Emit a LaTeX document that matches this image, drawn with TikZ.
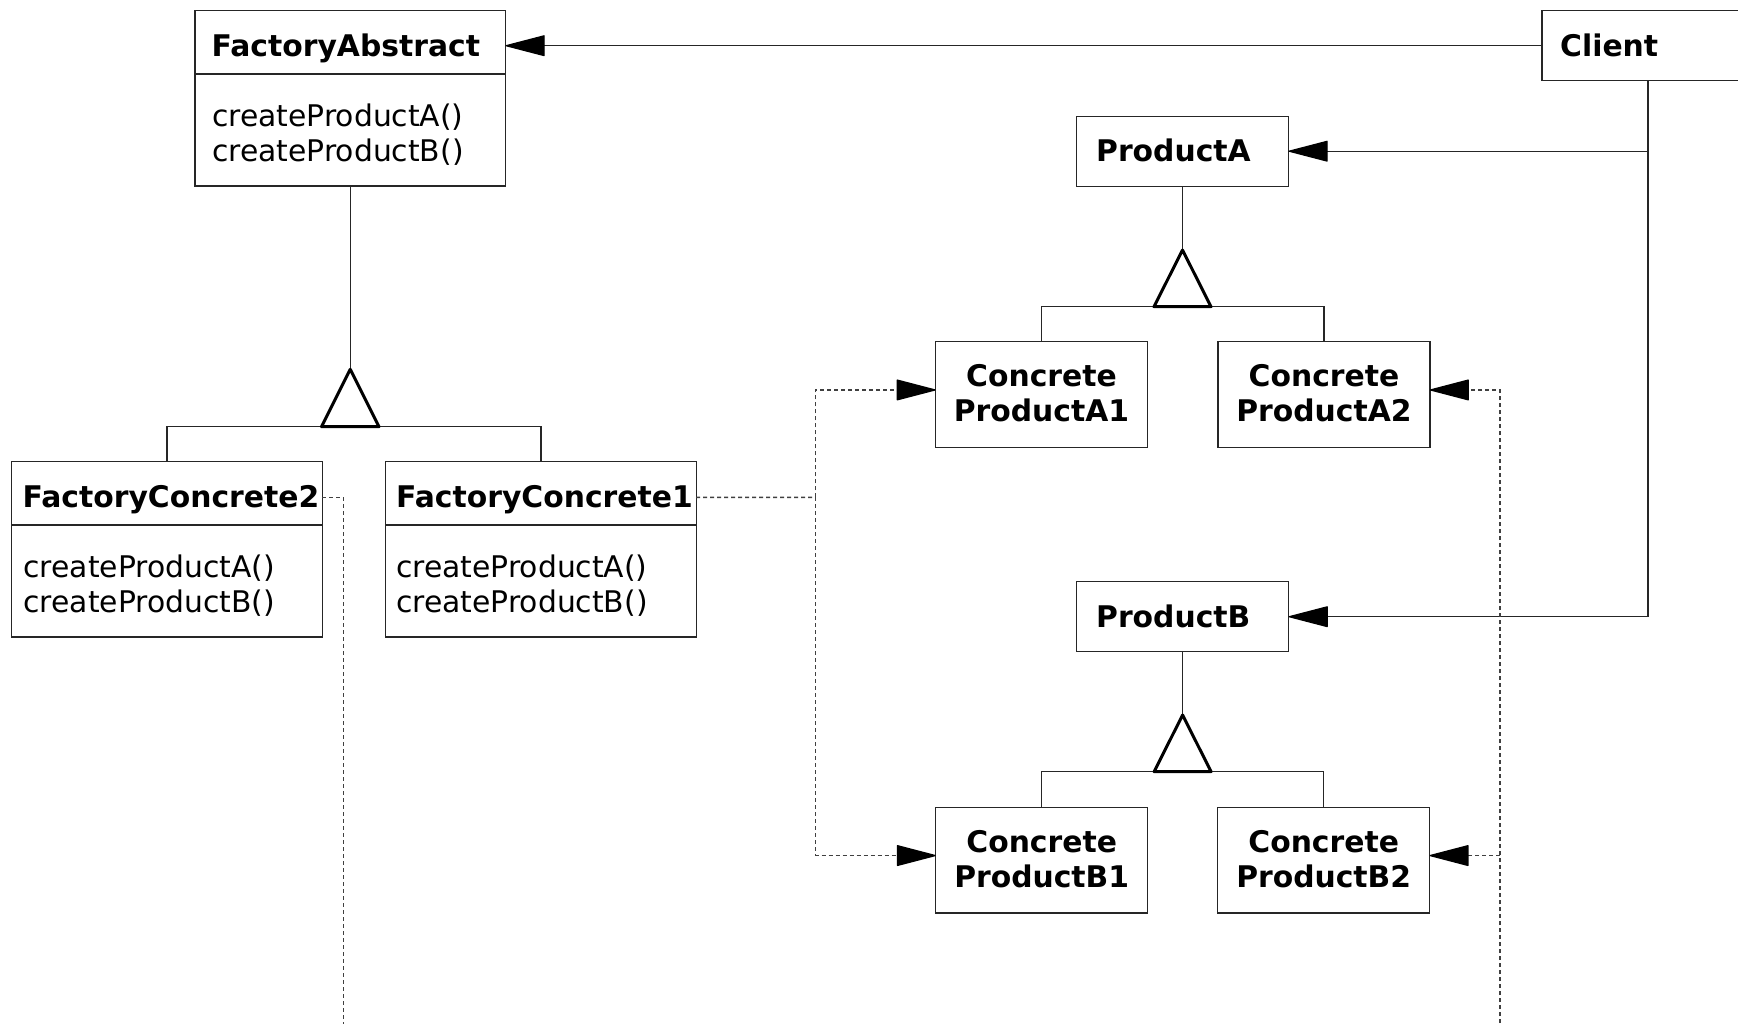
\documentclass[tikz,border=0pt]{standalone}
\usepackage{fontspec}
\setmainfont{DejaVu Sans}
\usetikzlibrary{arrows.meta}
\begin{document}
\begin{tikzpicture}[x=1pt,y=-1pt,
  box/.style={draw=black!85,line width=1.4pt,fill=white,inner sep=0pt,outer sep=0pt,anchor=north west},
  hdr/.style={box,minimum width=310.5pt,minimum height=63.3pt},
  bdy/.style={box,minimum width=310.5pt,minimum height=112pt},
  sbox/.style={box,minimum width=212pt,minimum height=70pt},
  cbox/.style={box,minimum width=212pt,minimum height=105.5pt},
  ttl/.style={inner sep=0pt,anchor=base west,font=\fontsize{29.8}{35}\selectfont\bfseries},
  ctl/.style={inner sep=0pt,anchor=base,font=\fontsize{29.8}{35}\selectfont\bfseries},
  mth/.style={inner sep=0pt,anchor=base west,font=\fontsize{29.8}{35}\selectfont},
  conn/.style={draw=black!85,line width=1.2pt},
  dep/.style={draw=black!75,line width=1.4pt,dash pattern=on 4pt off 3pt},
  headarrow/.style={-{Triangle[length=41pt,width=21pt,round,color=black,fill=black]}},
  gen/.style={draw=black,line width=3pt,line join=round,fill=white}]
\useasboundingbox (0,0) rectangle (1738,1023);
\clip (0,0) rectangle (1738,1023);

% FactoryAbstract
\node[hdr] (fah) at (195,10.7) {};
\node[bdy] (fab) at (195,74) {};
\node[ttl] (fat) at (211.5,56) {FactoryAbstract};
\node[mth] (fam1) at (212,126.7) {createProductA()};
\node[mth] (fam2) at (212,161.3) {createProductB()};

% Client
\node[sbox] (cl) at (1542,10.7) {};
\node[ttl] (clt) at (1560,56.7) {Client};

% ProductA / ProductB
\node[sbox] (pa) at (1076.5,116.2) {};
\node[ttl] (pat) at (1096,161.7) {ProductA};
\node[sbox] (pb) at (1076.6,581.7) {};
\node[ttl] (pbt) at (1096,627.5) {ProductB};

% Concrete products
\node[cbox] (ca1) at (935.5,341.7) {};
\node[ctl] (ca1a) at (1041.5,386.8) {Concrete};
\node[ctl] (ca1b) at (1041.5,421.7) {ProductA1};
\node[cbox] (ca2) at (1218,341.7) {};
\node[ctl] (ca2a) at (1324,386.8) {Concrete};
\node[ctl] (ca2b) at (1324,421.7) {ProductA2};
\node[cbox] (cb1) at (935.7,807.3) {};
\node[ctl] (cb1a) at (1041.7,852.8) {Concrete};
\node[ctl] (cb1b) at (1041.7,887.7) {ProductB1};
\node[cbox] (cb2) at (1217.7,807.3) {};
\node[ctl] (cb2a) at (1323.7,852.8) {Concrete};
\node[ctl] (cb2b) at (1323.7,887.7) {ProductB2};

% Factory concretes
\node[hdr] (fc2h) at (11.7,461.7) {};
\node[bdy] (fc2b) at (11.7,525) {};
\node[ttl] (fc2t) at (22.5,507.5) {FactoryConcrete2};
\node[mth] (fc2m1) at (23.3,577.7) {createProductA()};
\node[mth] (fc2m2) at (23.3,612.3) {createProductB()};
\node[hdr] (fc1h) at (385.7,461.7) {};
\node[bdy] (fc1b) at (385.7,525) {};
\node[ttl] (fc1t) at (396,507.5) {FactoryConcrete1};
\node[mth] (fc1m1) at (396,577.7) {createProductA()};
\node[mth] (fc1m2) at (396,612.3) {createProductB()};

% Client associations
\draw[conn,headarrow] (cl.west) -- (cl.west -| fah.east);
\draw[conn,headarrow] (cl.south) |- (pb.east);
\draw[conn,headarrow] (cl.south |- pa.east) -- (pa.east);

% Generalizations
\coordinate (fatri) at (350.25,369.3);
\coordinate (fabase) at (350.25,426.7);
\draw[conn] (fab.south) -- (fatri);
\draw[conn] (fc2h.north) |- (fabase) -| (fc1h.north);
\draw[gen] (fatri) -- ++(28.7,57.4) -- ++(-57.4,0) -- cycle;

\coordinate (patri) at (1182.5,250);
\coordinate (pabase) at (1182.5,306.7);
\draw[conn] (pa.south) -- (patri);
\draw[conn] (ca1.north) |- (pabase) -| (ca2.north);
\draw[gen] (patri) -- ++(28.5,56.7) -- ++(-57,0) -- cycle;

\coordinate (pbtri) at (1182.6,715);
\coordinate (pbbase) at (1182.6,771.7);
\draw[conn] (pb.south) -- (pbtri);
\draw[conn] (cb1.north) |- (pbbase) -| (cb2.north);
\draw[gen] (pbtri) -- ++(28.5,56.7) -- ++(-57,0) -- cycle;

% Dependencies
\coordinate (j1) at (815.7,497.4);
\draw[dep] ([yshift=-4pt]fc1h.east) -- (j1);
\draw[dep,headarrow] (j1) |- ([yshift=4.5pt]ca1.west);
\draw[dep,headarrow] (j1) |- ([yshift=4.5pt]cb1.west);

\coordinate (d2) at (343.3,1030);
\draw[dep] ([yshift=-4pt]fc2h.east) -| (d2);

\coordinate (d3) at (1500,1030);
\coordinate (cb2e) at ([yshift=4.5pt]cb2.east);
\draw[dep,headarrow] (d3) |- ([yshift=4.5pt]ca2.east);
\draw[dep,headarrow] (d3 |- cb2e) -- (cb2e);
\end{tikzpicture}
\end{document}
